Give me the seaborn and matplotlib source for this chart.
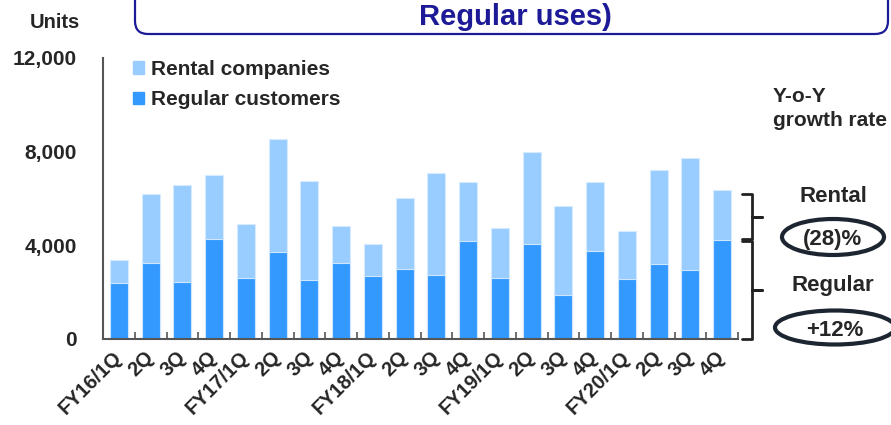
import matplotlib
matplotlib.use("Agg")
import matplotlib.pyplot as plt
import seaborn as sns
import pandas as pd
from matplotlib.patches import FancyBboxPatch, Ellipse, Patch
from matplotlib.ticker import FuncFormatter, FixedLocator

# values (units)
quarters = ["FY16/1Q", "FY16/2Q", "FY16/3Q", "FY16/4Q",
            "FY17/1Q", "FY17/2Q", "FY17/3Q", "FY17/4Q",
            "FY18/1Q", "FY18/2Q", "FY18/3Q", "FY18/4Q",
            "FY19/1Q", "FY19/2Q", "FY19/3Q", "FY19/4Q",
            "FY20/1Q", "FY20/2Q", "FY20/3Q", "FY20/4Q"]
tick_labels = ["FY16/1Q", "2Q", "3Q", "4Q", "FY17/1Q", "2Q", "3Q", "4Q",
               "FY18/1Q", "2Q", "3Q", "4Q", "FY19/1Q", "2Q", "3Q", "4Q",
               "FY20/1Q", "2Q", "3Q", "4Q"]
regular = [2400, 3240, 2430, 4270, 2600, 3710, 2520, 3240, 2690, 2990,
           2720, 4180, 2600, 4040, 1880, 3770, 2560, 3220, 2930, 4240]
rental = [970, 2950, 4130, 2730, 2310, 4840, 4230, 1600, 1370, 3040,
          4370, 2510, 2130, 3960, 3810, 2950, 2060, 4000, 4800, 2140]

REG_COLOR = "#3399ff"
RENT_COLOR = "#99ccff"
NAVY = "#1c1a96"

df = pd.DataFrame({"quarter": quarters, "regular": regular, "rental": rental})
df["total"] = df["regular"] + df["rental"]

FONT = ["Liberation Sans", "DejaVu Sans"]


def px(x, y):
    # pixel position (from top-left) to figure fraction
    return x / 891, 1 - y / 425


def main():
    sns.set_style("white")
    plt.rcParams["font.family"] = FONT
    plt.rcParams["font.weight"] = "bold"

    fig = plt.figure(figsize=(8.91, 4.25), dpi=100)
    ax = fig.add_axes([103 / 891, 1 - 339 / 425, (738 - 103) / 891, (339 - 58) / 425])

    sns.barplot(data=df, x="quarter", y="total", color=RENT_COLOR, width=0.57,
                edgecolor="#d6ebff", linewidth=0.8, saturation=1, ax=ax)
    sns.barplot(data=df, x="quarter", y="regular", color=REG_COLOR, width=0.57,
                edgecolor="#cfe6ff", linewidth=0.8, saturation=1, ax=ax)

    ax.set_xlim(-0.5, len(quarters) - 0.5)
    ax.set_ylim(0, 12000)
    ax.set_xlabel("")
    ax.set_ylabel("")

    ax.yaxis.set_major_locator(FixedLocator([0, 4000, 8000, 12000]))
    ax.yaxis.set_major_formatter(FuncFormatter(lambda v, p: f"{int(v):,}"))
    ax.tick_params(axis="y", direction="in", length=5, width=1.2, color="#555555",
                   pad=19, labelsize=15)
    for lab in ax.get_yticklabels():
        lab.set_fontweight("bold")

    ax.set_xticks(range(len(quarters)))
    ax.set_xticklabels(tick_labels, rotation=45, ha="right", va="center",
                       rotation_mode="anchor", fontsize=14.5, fontweight="bold")
    ax.tick_params(axis="x", length=0, pad=11)
    ax.set_xticks([i + 0.5 for i in range(len(quarters))], minor=True)
    ax.tick_params(axis="x", which="minor", direction="in", length=5, width=1.2,
                   color="#555555", bottom=True)

    for side in ["top", "right"]:
        ax.spines[side].set_visible(False)
    for side in ["left", "bottom"]:
        ax.spines[side].set_color("#555555")
        ax.spines[side].set_linewidth(1.5)

    handles = [Patch(color=RENT_COLOR), Patch(color=REG_COLOR)]
    ax.legend(handles, ["Rental companies", "Regular customers"],
              loc="upper left", bbox_to_anchor=px(133, 60),
              bbox_transform=fig.transFigure, frameon=False,
              borderpad=0, borderaxespad=0,
              handlelength=0.55, handleheight=0.55, handletextpad=0.3,
              labelspacing=0.55, prop={"size": 15, "weight": "bold"})

    # title box (cropped at the top of the slide)
    box = FancyBboxPatch((1.35, 3.91), 8.88 - 1.35, 1.0,
                         boxstyle="round,pad=0,rounding_size=0.13",
                         transform=fig.dpi_scale_trans, facecolor="none",
                         edgecolor=NAVY, linewidth=1.6, clip_on=False)
    fig.add_artist(box)
    fig.text(*px(515, 17), "Regular uses)", color=NAVY, fontsize=21,
             fontweight="bold", ha="center", va="center")

    fig.text(*px(55, 22), "Units", fontsize=14.5, fontweight="bold",
             ha="center", va="center")
    fig.text(*px(773, 97), "Y-o-Y", fontsize=15, fontweight="bold",
             ha="left", va="center")
    fig.text(*px(773, 121), "growth rate", fontsize=15, fontweight="bold",
             ha="left", va="center")

    # braces next to the last bar
    last = len(quarters) - 1
    top = df["total"].iloc[-1]
    mid = df["regular"].iloc[-1]
    xh, xs, xt = last + 0.63, last + 0.94, last + 1.26

    def brace(y0, y1):
        ym = (y0 + y1) / 2
        ax.plot([xh, xs, xs, xt, xs, xs, xh], [y1, y1, ym, ym, ym, y0, y0],
                color="#222222", linewidth=2, clip_on=False,
                solid_joinstyle="round")

    brace(mid + 40, top - 200)
    brace(20, mid - 40)

    fig.text(*px(833, 196), "Rental", fontsize=16, fontweight="bold",
             ha="center", va="center")
    fig.text(*px(833, 286), "Regular", fontsize=16, fontweight="bold",
             ha="center", va="center")
    fig.text(*px(833, 240), "(28)%", fontsize=16, fontweight="bold",
             ha="center", va="center")
    fig.text(*px(835, 330), "+12%", fontsize=16, fontweight="bold",
             ha="center", va="center")
    for cx, cy, w, h in [(8.33, 4.25 - 2.37, 1.02, 0.36),
                         (8.35, 4.25 - 3.275, 1.2, 0.34)]:
        fig.add_artist(Ellipse((cx, cy), w, h, transform=fig.dpi_scale_trans,
                               facecolor="none", edgecolor="#1c2530",
                               linewidth=3, clip_on=False))

    fig.savefig("out.png", dpi=100)


if __name__ == "__main__":
    main()
